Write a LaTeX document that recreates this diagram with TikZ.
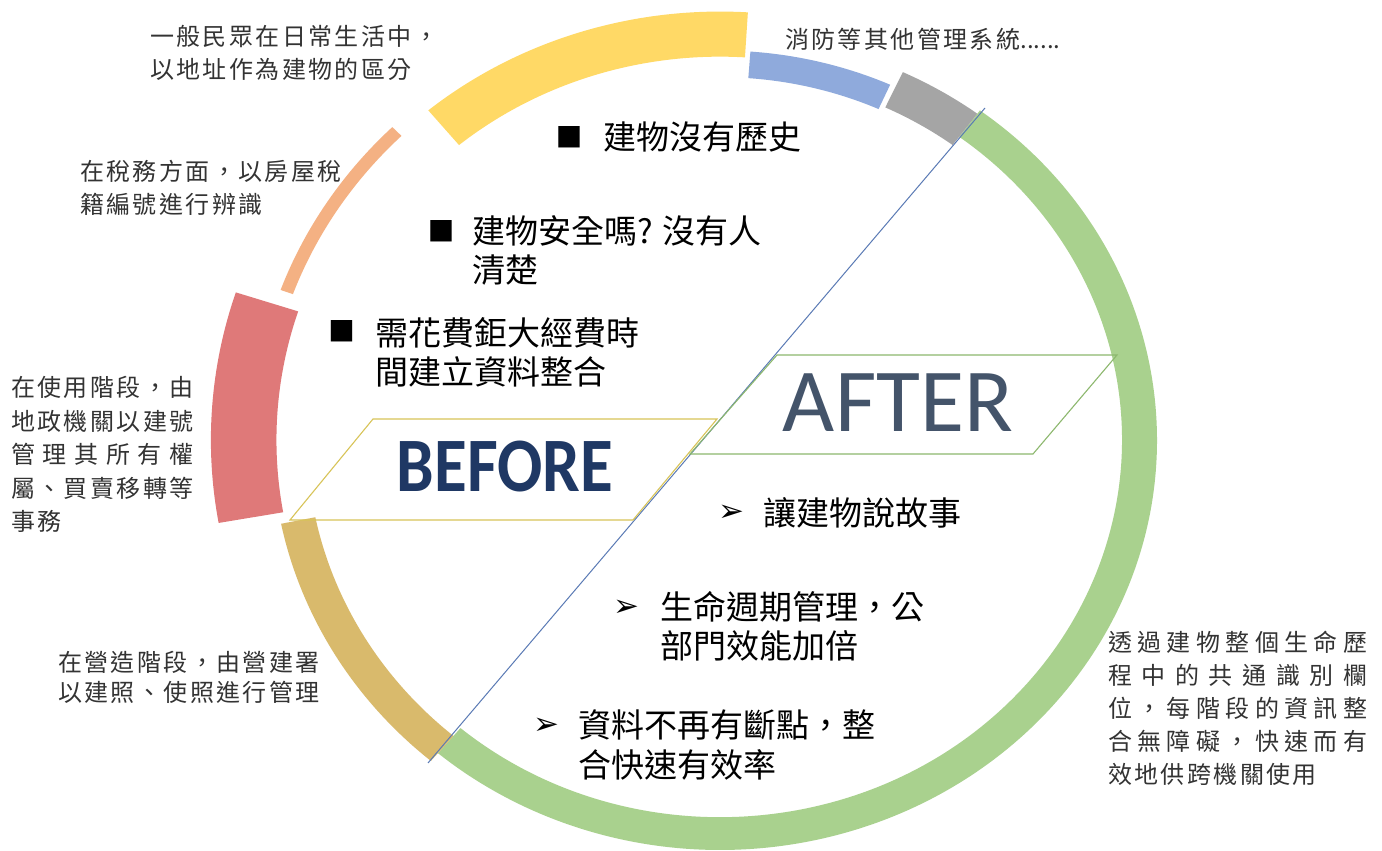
\documentclass[tikz,border=0pt]{standalone}
\usepackage{fontspec}
\usepackage{graphicx}
\setmainfont{Noto Sans CJK TC}
\newfontfamily\symfont{DejaVu Sans}
\newfontfamily\latinfont{Carlito}

\definecolor{ringgreen}{HTML}{A9D18E}
\definecolor{ringgray}{HTML}{A5A5A5}
\definecolor{ringblue}{HTML}{8FAADC}
\definecolor{ringyellow}{HTML}{FFD966}
\definecolor{ringsalmon}{HTML}{F4B183}
\definecolor{ringred}{HTML}{DF7979}
\definecolor{ringgold}{HTML}{D9BA6C}
\definecolor{beforenavy}{HTML}{1F3864}
\definecolor{afterslate}{HTML}{44546A}
\definecolor{splitblue}{HTML}{5A7AB5}
\definecolor{beforeline}{HTML}{D8C458}
\definecolor{afterline}{HTML}{8DB86E}

% one coloured piece of the ring
\newcommand\ringseg[5]{%
  \fill[#1] (#2:#5) arc[start angle=#2,end angle=#3,radius=#5]
    -- (#3:#4) arc[start angle=#3,end angle=#2,radius=#4] -- cycle;}

% spread the characters of one line over a width
\def\jst#1{#1\jstnext}
\def\jstnext#1{\ifx#1\relax\else\hfill#1\expandafter\jstnext\fi}
\newcommand\lsline[2]{\makebox[\dimexpr 26.4pt*#1-2.4pt\relax][s]{\jst#2\relax}}
\newcommand\fitline[2]{\makebox[#1pt][s]{\jst#2\relax}}

\begin{document}
\begin{tikzpicture}[x=1pt,y=1pt,
    side label/.style={anchor=base west,inner sep=0pt,align=left,text=black!80,
      font=\fontsize{24}{33}\selectfont},
    item text/.style={anchor=base west,inner sep=0pt,align=left,
      font=\fontsize{33}{39}\selectfont},
    square item/.style={inner sep=0pt,font=\symfont\fontsize{28}{28}\selectfont},
    arrow item/.style={inner sep=0pt,font=\symfont\fontsize{31}{31}\selectfont},
    split box/.style={line width=1.1pt}]

  \path[use as bounding box,fill=white] (0,0) rectangle (1382,851);

  \begin{scope}[shift={(720,411)},x=437pt,y=410pt]
    \ringseg{ringgreen}{53.5}{-130.2}{0.92}{1.0}
    \ringseg{ringgray}{53.5}{65}{0.895}{0.99}
    \ringseg{ringblue}{65.8}{85.8}{0.885}{0.95}
    \ringseg{ringyellow}{86.5}{129.7}{0.935}{1.045}
    \ringseg{ringsalmon}{134.5}{160}{1.04}{1.07}
    \ringseg{ringred}{162}{190}{1.015}{1.165}
    \ringseg{ringgold}{191.5}{229.8}{0.945}{1.025}
  \end{scope}

  \coordinate (splitA) at (428,88);
  \coordinate (splitB) at (985,743);
  \draw[splitblue,line width=1pt] (splitA) -- (splitB);

  % before / after boxes
  \coordinate (bfTL) at (373,432);
  \coordinate (bfTR) at (717,432);
  \coordinate (bfBR) at (633,331);
  \coordinate (bfBL) at (290,331);
  \draw[split box,beforeline] (bfTL) -- (bfTR) -- (bfBR) -- (bfBL) -- cycle;
  \coordinate (afTL) at (777,496);
  \coordinate (afTR) at (1117,496);
  \coordinate (afBR) at (1033,397);
  \coordinate (afBL) at (690,397);
  \draw[split box,afterline] (afTL) -- (afTR) -- (afBR) -- (afBL) -- cycle;

  \node[anchor=base,text=beforenavy,font=\latinfont\bfseries\fontsize{77}{77}\selectfont]
    (before) at (505,359) {\scalebox{0.87}[1]{BEFORE}};
  \node[anchor=base,text=afterslate,font=\latinfont\fontsize{90}{90}\selectfont]
    (after) at (898,419) {AFTER};

  % labels round the ring (anchored on their last line)
  \node[side label] (addr) at (150,772)
    {\lsline{11}{一般民眾在日常生活中，}\\\lsline{10}{以地址作為建物的區分}};
  \node[side label] (tax) at (80,637)
    {\lsline{10}{在稅務方面，以房屋稅}\\\lsline{7}{籍編號進行辨識}};
  \node[side label,font=\fontsize{24}{33.5}\selectfont] (landuse) at (11,320)
    {\lsline{7}{在使用階段，由}\\\lsline{7}{地政機關以建號}\\
     \fitline{182.4}{管理其所有權}\\\lsline{7}{屬、買賣移轉等}\\\lsline{2}{事務}};
  \node[side label] (fire) at (785,802) {\lsline{9}{消防等其他管理系統}......};
  \node[side label,font=\fontsize{24}{30}\selectfont] (build) at (58,149)
    {\lsline{10}{在營造階段，由營建署}\\\lsline{10}{以建照、使照進行管理}};
  \node[side label] (lifecycle) at (1108,67)
    {\fitline{259}{透過建物整個生命歷}\\\fitline{259}{程中的共通識別欄}\\
     \fitline{259}{位，每階段的資訊整}\\\fitline{259}{合無障礙，快速而有}\\
     \lsline{8}{效地供跨機關使用}};

  \node[square item] (sq1) at (569,714) {■};
  \node[item text] (item1) at (603,701) {建物沒有歷史};
  \node[square item] (sq2) at (441,620) {■};
  \node[item text] (item2) at (472,568) {建物安全嗎? 沒有人\\清楚};
  \node[square item] (sq3) at (341.5,520) {■};
  \node[item text] (item3) at (375,466) {需花費鉅大經費時\\間建立資料整合};
  \node[arrow item] (ar1) at (731,338) {➢};
  \node[item text] (item4) at (763,325) {讓建物說故事};
  \node[arrow item] (ar2) at (626,243) {➢};
  \node[item text] (item5) at (660,192) {生命週期管理，公\\部門效能加倍};
  \node[arrow item] (ar3) at (546,125) {➢};
  \node[item text,font=\fontsize{33}{40}\selectfont] (item6) at (578,73)
    {資料不再有斷點，整\\合快速有效率};
\end{tikzpicture}
\end{document}
